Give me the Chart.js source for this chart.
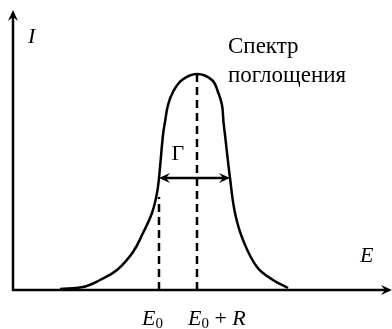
<!DOCTYPE html>
<html lang="ru">
<head>
<meta charset="utf-8" />
<script src="https://cdn.jsdelivr.net/npm/chart.js@4.4.1/dist/chart.umd.min.js"></script>
<title>Спектр поглощения</title>
<style>
  body { margin: 0; background: #fff; }
  #wrap { width: 392px; height: 329px; position: relative; }
</style>
</head>
<body>
<div id="wrap"><canvas id="spectrum"></canvas></div>
<script>
// контур полосы поглощения (условные единицы)
const energy    = [47, 70, 87, 104, 120, 130, 139, 144, 146, 150, 152, 155, 160, 169, 184, 199, 205, 209, 210.5, 212, 217, 222, 230, 244, 260, 275];
const intensity = [1, 3, 10, 20, 38, 57, 77, 97, 112, 155, 168, 185, 198, 210, 216, 210, 198, 185, 168, 155, 112, 77, 50, 23, 10, 2];

// отметки на оси E
const markE = [146, 184];
const markTop = [93, 216];
const markLabels = [["E", "0", ""], ["E", "0", " + R"]];

// ширина полосы Γ
const widthLevel = 112;
const widthFrom = 146;
const widthTo = 217;

const axisNames = { x: "E", y: "I" };
const titleLines = ["Спектр", "поглощения"];

const serif = "'Liberation Serif', 'DejaVu Serif', serif";

function arrowHead(ctx, x, y, dir) {
  // dir: 'up' | 'right' | 'left'
  ctx.save();
  ctx.translate(x, y);
  ctx.rotate(dir === "up" ? -Math.PI / 2 : dir === "left" ? Math.PI : 0);
  ctx.beginPath();
  ctx.moveTo(0, 0);
  ctx.lineTo(-11, -5);
  ctx.lineTo(-7, 0);
  ctx.lineTo(-11, 5);
  ctx.closePath();
  ctx.fillStyle = "#000";
  ctx.fill();
  ctx.restore();
}

function subLabel(ctx, parts, x, y, size) {
  ctx.font = "italic " + size + "px " + serif;
  ctx.fillText(parts[0], x, y);
  let cx = x + ctx.measureText(parts[0]).width;
  ctx.font = Math.round(size * 0.7) + "px " + serif;
  ctx.fillText(parts[1], cx, y + 3);
  cx += ctx.measureText(parts[1]).width;
  if (parts[2]) {
    ctx.font = size + "px " + serif;
    const plus = " + ";
    ctx.fillText(plus, cx, y);
    cx += ctx.measureText(plus).width;
    ctx.font = "italic " + size + "px " + serif;
    ctx.fillText("R", cx, y);
  }
}

const decor = {
  id: "decor",
  afterDatasetsDraw(chart) {
    const { ctx, chartArea: a, scales: { x, y } } = chart;
    const x0 = x.getPixelForValue(0);
    const y0 = y.getPixelForValue(0);
    ctx.save();
    ctx.strokeStyle = "#000";
    ctx.fillStyle = "#000";
    ctx.lineWidth = 2.5;
    ctx.lineCap = "butt";

    // оси
    ctx.beginPath();
    ctx.moveTo(x0, a.top + 6);
    ctx.lineTo(x0, y0);
    ctx.lineTo(a.right - 6, y0);
    ctx.stroke();
    arrowHead(ctx, x0, a.top, "up");
    arrowHead(ctx, a.right, y0, "right");

    // стрелки ширины Γ
    const wy = y.getPixelForValue(widthLevel);
    arrowHead(ctx, x.getPixelForValue(widthFrom), wy, "left");
    arrowHead(ctx, x.getPixelForValue(widthTo), wy, "right");

    // подписи
    ctx.textBaseline = "alphabetic";
    ctx.font = "italic 22px " + serif;
    ctx.fillText(axisNames.y, x0 + 15, a.top + 33);
    ctx.fillText(axisNames.x, a.right - 32, y0 - 28);

    ctx.font = "22px " + serif;
    ctx.fillText("Γ", x.getPixelForValue((widthFrom + widthTo) / 2) - 23, wy - 18);

    ctx.font = "23px " + serif;
    ctx.fillText(titleLines[0], 228, 53);
    ctx.fillText(titleLines[1], 228, 82);

    subLabel(ctx, markLabels[0], x.getPixelForValue(markE[0]) - 17, y0 + 35, 22);
    subLabel(ctx, markLabels[1], x.getPixelForValue(markE[1]) - 9, y0 + 35, 22);
    ctx.restore();
  }
};

const dash = (i) => ({
  data: [{ x: markE[i], y: 0 }, { x: markE[i], y: markTop[i] }],
  borderColor: "#000",
  borderWidth: 2.5,
  borderDash: [8, 5],
  pointRadius: 0,
  showLine: true
});

new Chart(document.getElementById("spectrum"), {
  type: "scatter",
  data: {
    datasets: [
      {
        data: energy.map((e, i) => ({ x: e, y: intensity[i] })),
        borderColor: "#000",
        borderWidth: 2.5,
        pointRadius: 0,
        showLine: true,
        tension: 0.4
      },
      dash(0),
      dash(1),
      {
        data: [{ x: widthFrom + 6, y: widthLevel }, { x: widthTo - 6, y: widthLevel }],
        borderColor: "#000",
        borderWidth: 2.5,
        pointRadius: 0,
        showLine: true
      }
    ]
  },
  options: {
    responsive: true,
    maintainAspectRatio: false,
    animation: false,
    layout: { padding: { left: 13, right: 0, top: 10, bottom: 39 } },
    scales: {
      x: { type: "linear", min: 0, max: 379, display: false },
      y: { type: "linear", min: 0, max: 280, display: false }
    },
    plugins: { legend: { display: false }, tooltip: { enabled: false } }
  },
  plugins: [decor]
});
</script>
</body>
</html>
